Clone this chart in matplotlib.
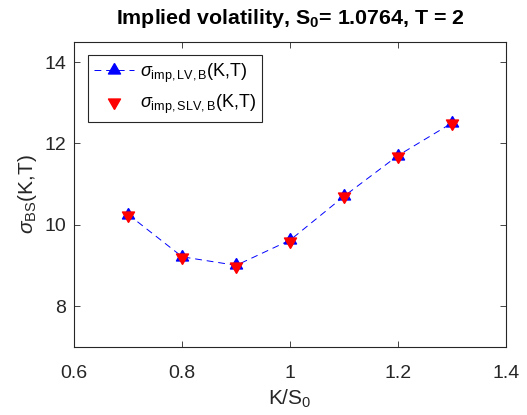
import matplotlib
matplotlib.use("Agg")
import matplotlib.pyplot as plt

plt.rcParams['font.family'] = ['Liberation Sans', 'DejaVu Sans']
plt.rcParams['mathtext.fontset'] = 'custom'
plt.rcParams['mathtext.rm'] = 'Liberation Sans'
plt.rcParams['mathtext.it'] = 'Liberation Sans:italic'
plt.rcParams['mathtext.bf'] = 'Liberation Sans:bold'

moneyness = [0.7, 0.8, 0.9, 1.0, 1.1, 1.2, 1.3]
vol_lv = [10.25, 9.21, 9.0, 9.62, 10.70, 11.70, 12.50]
vol_slv = [10.25, 9.20, 8.99, 9.61, 10.71, 11.70, 12.49]

xticks = [0.6, 0.8, 1.0, 1.2, 1.4]
xticklabels = ['0.6', '0.8', '1', '1.2', '1.4']
yticks = [8, 10, 12, 14]

# triangles centred on their centroid (MATLAB style)
tri_up = [(0, 1), (-0.866, -0.5), (0.866, -0.5), (0, 1)]
tri_dn = [(0, -1), (-0.866, 0.5), (0.866, 0.5), (0, -1)]

gray = '#262626'
fig = plt.figure(figsize=(5.27, 4.15), dpi=100)
ax = fig.add_axes([0.141, 0.1646, 0.819, 0.735])

ax.plot(moneyness, vol_lv, linestyle='--', color='blue', marker=tri_up,
        markersize=10, linewidth=0.7, dashes=(7, 5),
        label=r'$\sigma_{\mathrm{imp,LV,B}}$(K,T)')
ax.plot(moneyness, vol_slv, linestyle='none', color='red', marker=tri_dn,
        markersize=10, label=r'$\sigma_{\mathrm{imp,SLV,B}}$(K,T)')

ax.set_xlim(0.6, 1.4)
ax.set_ylim(7, 14.5)
ax.set_xticks(xticks)
ax.set_xticklabels(xticklabels)
ax.set_yticks(yticks)
ax.tick_params(direction='in', top=True, right=True, labelsize=14,
               colors=gray, length=4, width=0.6)
ax.tick_params(axis='x', pad=13)
ax.tick_params(axis='y', pad=6)
for s in ax.spines.values():
    s.set_color(gray)
    s.set_linewidth(0.8)

ax.set_xlabel('K/S$_0$', fontsize=15, color=gray, labelpad=4)
ax.set_ylabel(r'$\sigma_{\mathrm{BS}}$(K,T)', fontsize=15, color=gray, labelpad=4)
ax.set_title(r'Implied volatility, S$_{\mathbf{0}}$= 1.0764, T = 2',
             fontsize=15.4, fontweight='bold', pad=13)

leg = ax.legend(loc='upper left', bbox_to_anchor=(0.032, 0.956), borderaxespad=0,
                fontsize=13, fancybox=False, edgecolor=gray, framealpha=1,
                handlelength=2.2, handletextpad=0.3, borderpad=0.35,
                labelspacing=0.45)
leg.get_frame().set_linewidth(0.8)

fig.savefig('out.png', dpi=100)
